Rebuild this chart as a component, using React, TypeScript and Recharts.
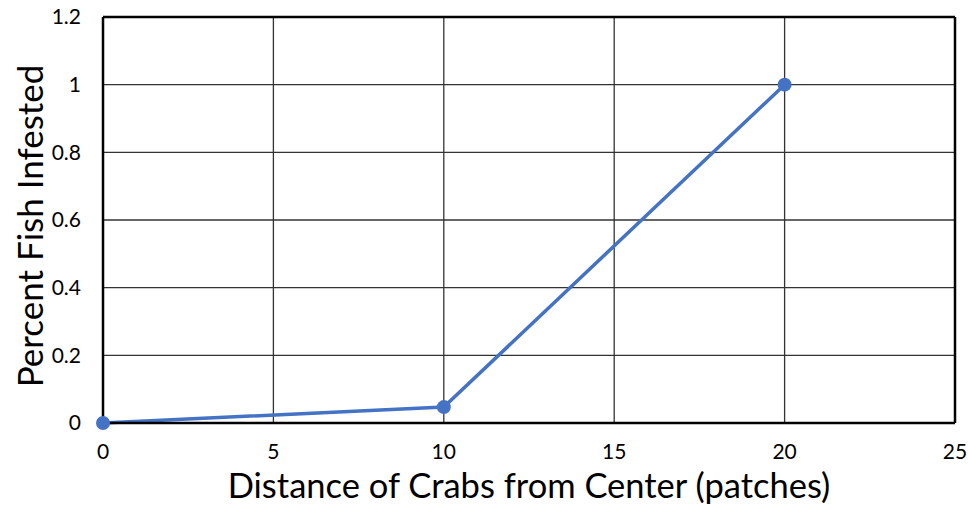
import React from "react";
import { LineChart, Line, XAxis, YAxis, CartesianGrid, ReferenceLine, Label } from "recharts";

const distances = [0, 10, 20];
const infested = [0, 0.047, 1];
const xTicks = [0, 5, 10, 15, 20, 25];
const yTicks = [0, 0.2, 0.4, 0.6, 0.8, 1, 1.2];

const data = distances.map((d, i) => ({ x: d, y: infested[i] }));

const FONT = "Lato, 'Open Sans', sans-serif";

export default function App() {
  return (
    <div style={{ position: "absolute", left: 0, top: 0, width: 968, height: 506, background: "#fff" }}>
      <LineChart width={968} height={506} data={data} margin={{ top: 17, right: 13, left: 0, bottom: 0 }}>
        <CartesianGrid stroke="#333" strokeWidth={1.3} />
        <XAxis
          dataKey="x"
          type="number"
          domain={[0, 25]}
          ticks={xTicks}
          height={83}
          tickSize={0}
          tickMargin={21}
          stroke="#000"
          strokeWidth={2.5}
          tick={{ fill: "#000", fontSize: 21, fontFamily: FONT }}
        >
          <Label
            value="Distance of Crabs from Center (patches)"
            position="insideBottom"
            offset={8}
            style={{ fill: "#000", fontSize: 34.5, fontFamily: FONT }}
          />
        </XAxis>
        <YAxis
          type="number"
          domain={[0, 1.2]}
          ticks={yTicks}
          width={103}
          tickSize={0}
          tickMargin={22}
          stroke="#000"
          strokeWidth={2.5}
          tickFormatter={(v: number) => String(Number(v.toFixed(1)))}
          tick={{ fill: "#000", fontSize: 21, fontFamily: FONT }}
        >
          <Label
            content={() => (
              <text
                x={29}
                y={226}
                transform="rotate(-90, 29, 226)"
                textAnchor="middle"
                dominantBaseline="central"
                style={{ fill: "#000", fontSize: 35, fontFamily: FONT }}
              >
                Percent Fish Infested
              </text>
            )}
          />
        </YAxis>
        <ReferenceLine x={25} stroke="#000" strokeWidth={2.5} />
        <ReferenceLine y={1.2} stroke="#000" strokeWidth={2.5} />
        <Line
          dataKey="y"
          stroke="#4472C4"
          strokeWidth={3.5}
          dot={{ r: 7, fill: "#4472C4", stroke: "#4472C4", strokeWidth: 0 }}
          isAnimationActive={false}
        />
      </LineChart>
    </div>
  );
}
